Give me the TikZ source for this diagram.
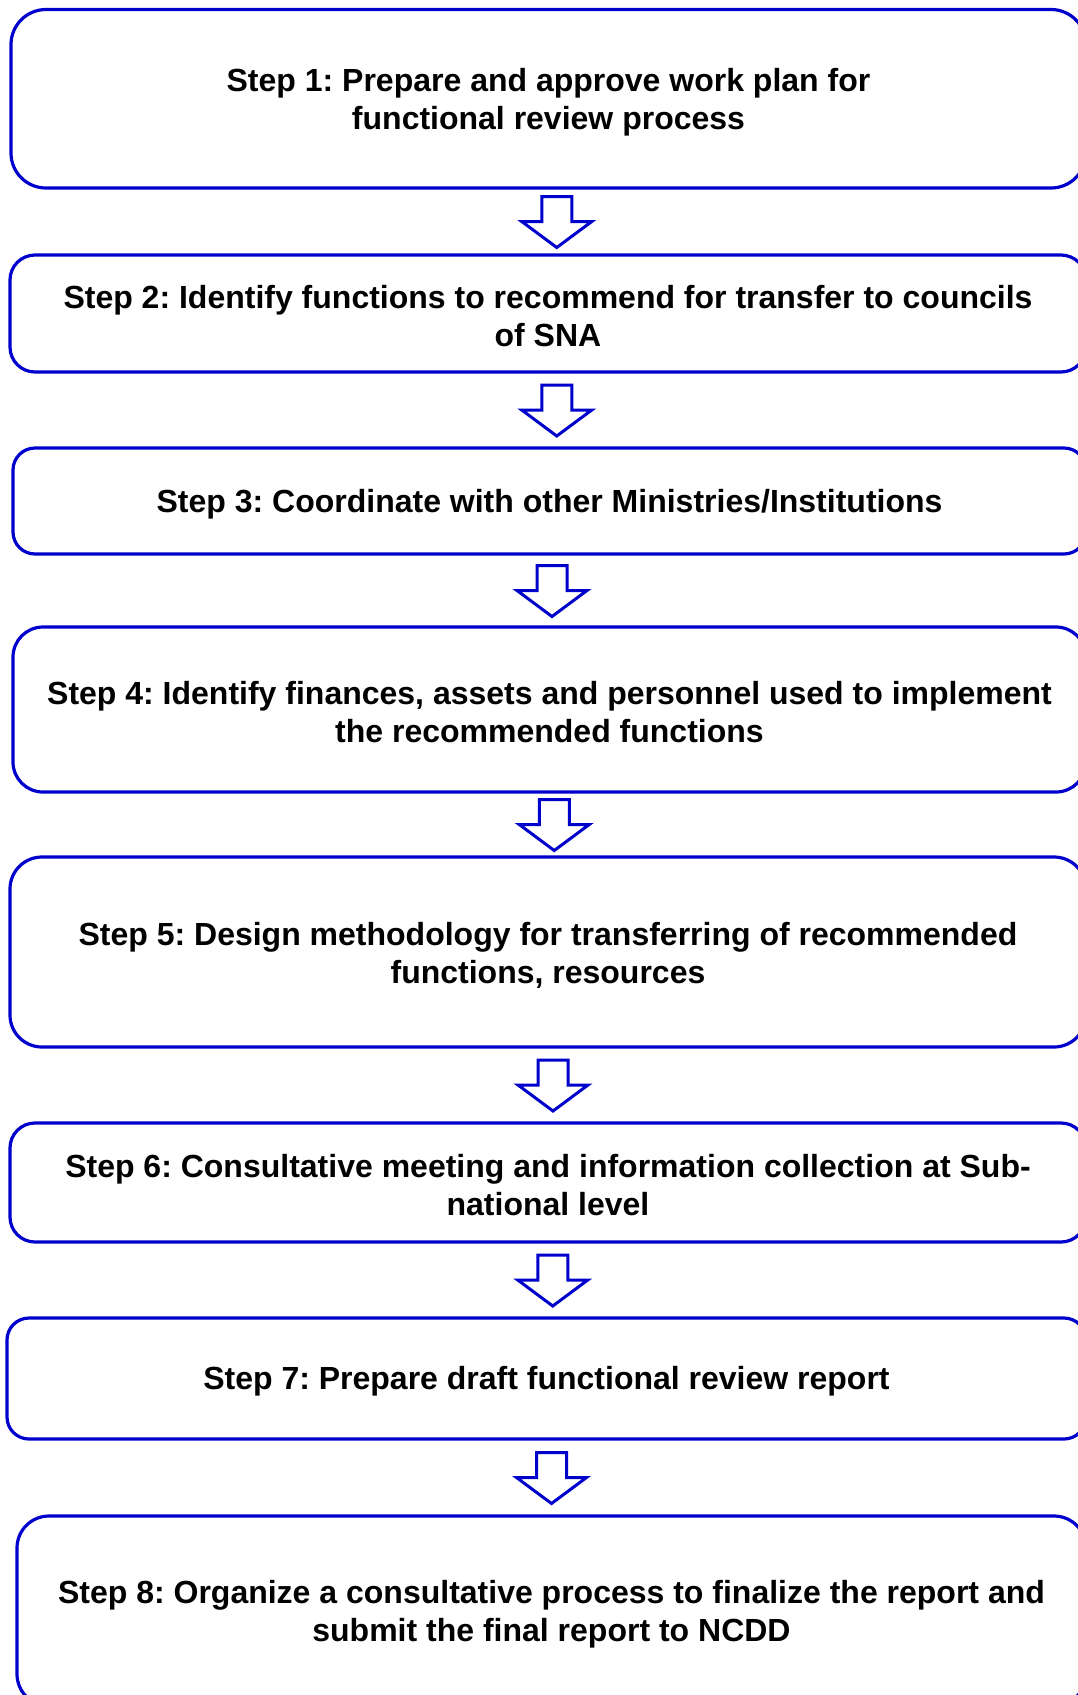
\documentclass[tikz,border=0pt]{standalone}
\usepackage{fontspec}
\setmainfont{Liberation Sans}
\usetikzlibrary{calc}
\frenchspacing
\definecolor{stepblue}{RGB}{0,0,204}
\tikzset{
  stepbox/.style={draw=stepblue, line width=3.2pt, fill=none, inner sep=0pt},
  steptext/.style={align=center, inner sep=0pt, font=\fontsize{32}{38}\selectfont\bfseries},
  blockarrowline/.style={draw=stepblue, line width=3pt, line join=miter, fill=white}
}
\newcommand\mydownarrow[1]{%
  \draw[blockarrowline] ($(#1)+(-15,-25)$) -- ($(#1)+(15,-25)$) -- ($(#1)+(15,0)$)
    -- ($(#1)+(35,0)$) -- ($(#1)+(0,26)$) -- ($(#1)+(-35,0)$) -- ($(#1)+(-15,0)$) -- cycle;}
\begin{document}
\begin{tikzpicture}[x=1pt,y=-1pt]
\useasboundingbox (0,0) rectangle (1078,1695);
\clip (0,0) rectangle (1078,1695);
\node[stepbox, rounded corners=35pt, minimum width=1075pt, minimum height=178.5pt] (box1) at (548.5,98.75) {};
\node[stepbox, rounded corners=25pt, minimum width=1076pt, minimum height=117pt] (box2) at (548,313.5) {};
\node[stepbox, rounded corners=22pt, minimum width=1073pt, minimum height=106pt] (box3) at (549.5,501) {};
\node[stepbox, rounded corners=30pt, minimum width=1073pt, minimum height=165pt] (box4) at (549.5,709.5) {};
\node[stepbox, rounded corners=32pt, minimum width=1076pt, minimum height=190pt] (box5) at (548,952) {};
\node[stepbox, rounded corners=25pt, minimum width=1076pt, minimum height=119pt] (box6) at (548,1182.5) {};
\node[stepbox, rounded corners=22pt, minimum width=1079pt, minimum height=121pt] (box7) at (546.5,1378.5) {};
\node[stepbox, rounded corners=32pt, minimum width=1069pt, minimum height=190pt] (box8) at (551.5,1611) {};
\node[steptext] (t1) at ([yshift=-3pt]box1.center) {Step 1: Prepare and approve work plan for\\functional review process};
\node[steptext] (t2) at ([yshift=-3pt]box2.center) {Step 2: Identify functions to recommend for transfer to councils\\of SNA};
\node[steptext] (t3) at ([yshift=-3pt]box3.center) {Step 3: Coordinate with other Ministries/Institutions};
\node[steptext] (t4) at ([yshift=-3pt]box4.center) {Step 4: Identify finances, assets and personnel used to implement\\the recommended functions};
\node[steptext] (t5) at ([yshift=-3pt]box5.center) {Step 5: Design methodology for transferring of recommended\\functions, resources};
\node[steptext] (t6) at ([yshift=-3pt]box6.center) {Step 6: Consultative meeting and information collection at Sub-\\national level};
\node[steptext] (t7) at ([yshift=-3pt]box7.center) {Step 7: Prepare draft functional review report};
\node[steptext] (t8) at ([yshift=-3pt]box8.center) {Step 8: Organize a consultative process to finalize the report and\\submit the final report to NCDD};
\coordinate (m1) at ($(box1.south)!0.5!(box2.north)+(8.5,0)$);
\coordinate (m2) at ($(box2.south)!0.5!(box3.north)+(8,0)$);
\coordinate (m3) at ($(box3.south)!0.5!(box4.north)+(2.5,0)$);
\coordinate (m4) at ($(box4.south)!0.5!(box5.north)+(5.5,0)$);
\coordinate (m5) at ($(box5.south)!0.5!(box6.north)+(5,0)$);
\coordinate (m6) at ($(box6.south)!0.5!(box7.north)+(5.5,0)$);
\coordinate (m7) at ($(box7.south)!0.5!(box8.north)+(2.5,0)$);
\mydownarrow{m1}
\mydownarrow{m2}
\mydownarrow{m3}
\mydownarrow{m4}
\mydownarrow{m5}
\mydownarrow{m6}
\mydownarrow{m7}
\end{tikzpicture}
\end{document}
